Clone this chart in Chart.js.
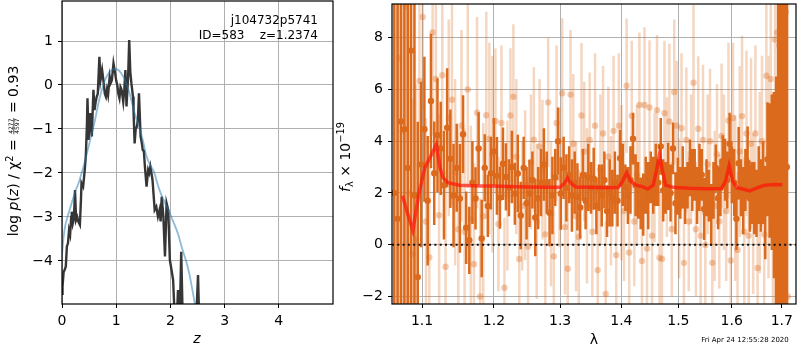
<!DOCTYPE html>
<html>
<head>
<meta charset="utf-8">
<script src="https://cdn.jsdelivr.net/npm/chart.js@4.4.1/dist/chart.umd.min.js"></script>
<style>
  body { margin: 0; background: #fff; }
  #wrap { position: relative; width: 800px; height: 350px; }
  #wrap canvas { position: absolute; left: 0; top: 0; }
</style>
</head>
<body>
<div id="wrap">
  <canvas id="pz-chart" width="800" height="350"></canvas>
  <canvas id="spec-chart" width="800" height="350"></canvas>
</div>
<script>
// ==================== Data ====================

// p(z) panel
const pzZ = [0.00,0.01,0.03,0.05,0.07,0.09,0.11,0.13,0.15,0.17,0.18,0.20,0.22,0.24,0.26,0.28,0.30,0.33,0.35,0.36,
  0.39,0.42,0.44,0.46,0.47,0.49,0.52,0.55,0.58,0.60,0.62,0.64,0.66,0.69,0.71,0.74,0.77,0.79,0.81,0.83,
  0.85,0.88,0.90,0.92,0.95,0.98,1.00,1.02,1.04,1.06,1.08,1.10,1.13,1.15,1.17,1.19,1.22,1.24,1.26,1.28,
  1.31,1.32,1.34,1.36,1.38,1.40,1.42,1.45,1.47,1.49,1.51,1.53,1.56,1.59,1.61,1.63,1.65,1.67,1.69,1.71,
  1.74,1.77,1.80,1.82,1.84,1.87,1.90,1.93,1.96,1.99,2.02,2.05,2.08,2.11,2.14,2.17,2.20,2.23,2.27,2.30,
  2.40,2.47,2.51,2.54,2.60];
const pzLog = [-4.75,-4.58,-4.25,-4.2,-4.13,-3.67,-3.6,-3.3,-3.4,-3.0,-2.88,-3.15,-3.05,-2.39,-3.07,-3.0,-3.1,-3.18,-2.6,-2.23,
  -2.31,-1.93,-1.6,-0.9,-0.30,-1.25,-0.64,-1.17,-0.11,-0.57,-0.4,-0.27,-0.2,0.64,0.11,0.34,0.04,-0.2,-0.27,-0.1,
  -0.23,0.19,0.05,0.11,0.49,0.27,0.1,0.0,-0.2,-0.30,-0.05,-0.11,-0.38,-0.1,0.34,-0.49,0.19,1.02,0.3,0.04,
  -0.27,-0.6,-1.33,-1.0,-0.95,-0.8,-0.19,-1.17,-1.3,-1.48,-1.5,-1.86,-2.31,-1.93,-2.0,-1.86,-2.0,-2.16,-2.5,-2.84,
  -2.77,-2.99,-2.84,-3.1,-2.54,-2.99,-3.90,-2.69,-2.84,-3.98,-4.2,-4.43,-5.3,-5.6,-4.66,-5.4,-3.79,-5.5,-5.6,-5.7,
  -5.8,-5.5,-4.32,-5.8,-6.2];
const fitZ = [0,0.03,0.06,0.09,0.15,0.20,0.25,0.30,0.35,0.40,0.45,0.50,0.55,0.60,0.65,0.70,0.75,0.80,0.85,0.90,
  0.95,1.00,1.05,1.10,1.15,1.20,1.25,1.30,1.35,1.40,1.45,1.50,1.55,1.60,1.65,1.70,1.75,1.80,1.85,1.90,
  1.95,2.00,2.05,2.10,2.15,2.20,2.25,2.30,2.35,2.40,2.45,2.50];
const fitLog = [-3.85,-3.45,-3.2,-3.05,-2.8,-2.6,-2.4,-2.25,-2.05,-1.85,-1.6,-1.35,-1.1,-0.85,-0.55,-0.27,-0.05,0.13,0.25,0.32,
  0.36,0.36,0.33,0.25,0.15,-0.02,-0.2,-0.45,-0.68,-0.88,-1.07,-1.3,-1.58,-1.75,-1.87,-1.98,-2.2,-2.39,-2.55,-2.68,
  -2.8,-2.95,-3.1,-3.25,-3.42,-3.65,-3.85,-4.05,-4.3,-4.62,-4.97,-5.35];
const zTicks = [0, 1, 2, 3, 4];
const logpTicks = [-4, -3, -2, -1, 0, 1];

// spectrum panel
const darkLam = [1.0635,1.0679,1.0723,1.0767,1.0811,1.0855,1.0899,1.0943,1.0987,1.1031,
  1.1075,1.1119,1.1163,1.1207,1.1251,1.1295,1.1339,1.1383,1.1427,1.1471,
  1.1515,1.1559,1.1603,1.1647,1.1691,1.1735,1.1779,1.1823,1.1867,1.1911,
  1.1955,1.1999,1.2043,1.2087,1.2131,1.2175,1.2219,1.2263,1.2307,1.2351,
  1.2395,1.2439,1.2483,1.2527,1.2571,1.2615,1.2659,1.2703,1.2747,1.2791,
  1.2835,1.2879,1.2923,1.2967,1.3011,1.3055,1.3099,1.3143,1.3187,1.3231,
  1.3275,1.3319,1.3363,1.3407,1.3451,1.3495,1.3539,1.3583,1.3627,1.3671,
  1.3715,1.3759,1.3803,1.3847,1.3891,1.3935,1.3979,1.4023,1.4067,1.4111,
  1.4155,1.4199,1.4243,1.4287,1.4331,1.4375,1.4419,1.4463,1.4507,1.4551,
  1.4595,1.4639,1.4683,1.4727,1.4771,1.4815,1.4859,1.4903,1.4947,1.4991,
  1.5035,1.5079,1.5123,1.5167,1.5211,1.5255,1.5299,1.5343,1.5387,1.5431,
  1.5475,1.5519,1.5563,1.5607,1.5651,1.5695,1.5739,1.5783,1.5827,1.5871,
  1.5915,1.5959,1.6003,1.6047,1.6091,1.6135,1.6179,1.6223,1.6267,1.6311,
  1.6355,1.6399,1.6443,1.6487,1.6531,1.6575,1.6619,1.6663,1.6707,1.6751,
  1.6795,1.6839,1.6883,1.6927,1.6971,1.7015,1.7059,1.7103];
const darkFlux = [2.0,1.0,4.76,4.46,2.97,7.5,1.9,-1.25,3.1,4.46,
  1.7,5.55,2.76,4.23,3.72,2.3,4.52,3.32,1.9,2.97,
  1.79,4.27,0.66,0.17,2.4,1.79,3.72,0.24,2.97,1.5,
  2.76,3.6,2.66,1.82,3.13,2.62,2.2,3.0,1.97,2.75,
  1.13,2.97,1.6,1.98,2.5,1.05,1.8,2.4,3.1,2.4,
  1.24,1.9,2.6,4.0,1.98,2.97,2.2,2.7,1.9,2.4,
  1.85,1.44,2.7,1.7,2.6,2.2,2.55,1.5,2.2,1.9,
  2.5,1.3,2.0,1.8,2.4,1.7,3.34,2.7,2.2,1.9,
  2.5,4.1,2.3,2.1,1.6,1.55,2.3,1.9,2.6,2.3,
  2.7,2.4,3.8,2.1,2.2,2.64,2.0,3.72,1.6,2.26,
  2.0,2.6,1.9,2.3,2.97,2.5,2.7,1.9,2.6,2.7,
  1.38,2.2,1.9,1.15,2.1,2.97,1.8,2.2,3.23,2.9,
  2.5,3.9,2.7,2.4,1.0,3.15,2.2,1.7,2.5,3.17,
  1.8,2.0,1.8,1.6,2.3,1.9,2.4,1.24,3.3,2.87,
  2.8,2.3,2.0,0.51,8.3,6.7,7.0,3.0];
const darkErr = [15,15,15,15,15,15,15,6,3.2,2.8,
  2.5,2.6,2.0,2.2,1.8,2.1,2.3,1.9,2.0,1.7,
  2.1,1.5,1.4,1.3,1.6,1.2,1.4,1.5,1.3,1.2,
  1.4,1.3,1.5,1.2,1.4,1.3,1.1,1.4,1.2,1.5,
  1.3,1.2,1.4,1.3,1.1,1.5,1.2,1.3,1.4,1.2,
  1.3,1.5,1.1,1.3,1.4,1.2,1.3,1.1,1.4,1.2,
  1.3,1.2,1.0,1.1,1.3,1.0,1.2,1.1,0.9,1.2,
  1.1,1.0,1.3,1.1,1.2,1.0,1.1,1.2,0.9,1.1,
  1.3,1.0,1.2,1.1,1.0,1.2,1.1,1.3,1.0,1.1,
  1.2,0.9,1.1,1.2,1.0,1.3,1.1,1.0,1.2,1.1,
  1.0,1.2,1.1,0.9,1.1,1.2,1.0,1.1,1.3,1.0,
  1.2,1.1,1.0,1.2,1.1,0.9,1.2,1.1,1.0,1.2,
  1.1,1.2,1.1,1.3,1.2,1.4,1.1,1.3,1.2,1.4,
  1.3,1.2,1.4,1.3,1.5,1.4,1.6,1.8,2.2,2.6,
  3.0,3.6,4.5,15,15,15,15,15];
const lightLam = [1.0657,1.0701,1.0745,1.0789,1.0833,1.0877,1.0921,1.0965,1.1009,1.1053,
  1.1097,1.1141,1.1185,1.1229,1.1273,1.1317,1.1361,1.1405,1.1449,1.1493,
  1.1537,1.1581,1.1625,1.1669,1.1713,1.1757,1.1801,1.1845,1.1889,1.1933,
  1.1977,1.2021,1.2065,1.2109,1.2153,1.2197,1.2241,1.2285,1.2329,1.2373,
  1.2417,1.2461,1.2505,1.2549,1.2593,1.2637,1.2681,1.2725,1.2769,1.2813,
  1.2857,1.2901,1.2945,1.2989,1.3033,1.3077,1.3121,1.3165,1.3209,1.3253,
  1.3297,1.3341,1.3385,1.3429,1.3473,1.3517,1.3561,1.3605,1.3649,1.3693,
  1.3737,1.3781,1.3825,1.3869,1.3913,1.3957,1.4001,1.4045,1.4089,1.4133,
  1.4177,1.4221,1.4265,1.4309,1.4353,1.4397,1.4441,1.4485,1.4529,1.4573,
  1.4617,1.4661,1.4705,1.4749,1.4793,1.4837,1.4881,1.4925,1.4969,1.5013,
  1.5057,1.5101,1.5145,1.5189,1.5233,1.5277,1.5321,1.5365,1.5409,1.5453,
  1.5497,1.5541,1.5585,1.5629,1.5673,1.5717,1.5761,1.5805,1.5849,1.5893,
  1.5937,1.5981,1.6025,1.6069,1.6113,1.6157,1.6201,1.6245,1.6289,1.6333,
  1.6377,1.6421,1.6465,1.6509,1.6553,1.6597,1.6641,1.6685,1.6729,1.6773,
  1.6817,1.6861,1.6905,1.6949,1.6993,1.7037,1.7081,1.7125];
const lightFlux = [9.5,7.2,4.4,9.2,2.0,-0.36,0.2,6.33,8.8,0.9,
  -0.49,8.2,6.4,1.14,6.55,-0.85,4.9,5.6,2.8,0.6,
  4.6,0.5,6.0,1.0,-0.75,5.1,-2.0,1.1,5.0,4.1,
  3.5,4.78,0.8,4.7,-1.66,1.9,4.99,5.72,3.4,-0.55,
  1.5,2.3,-0.07,3.2,4.06,0.9,3.8,2.9,0.4,5.5,
  1.2,-0.45,4.7,2.6,5.85,0.68,-0.93,5.8,3.9,1.1,
  0.3,4.99,3.6,1.5,4.05,0.5,4.6,-0.98,2.9,4.3,
  -1.9,3.4,1.7,4.4,-0.4,4.6,2.4,1.3,6.14,-0.3,
  4.98,0.9,2.7,5.4,-0.63,5.4,-0.15,5.3,0.35,2.6,
  5.2,-0.5,-0.55,5.08,3.0,4.76,0.6,5.9,4.6,1.4,
  4.5,-0.7,4.05,0.9,3.3,6.26,0.6,4.48,0.35,4.05,
  -0.01,3.1,4.0,-0.7,1.5,3.5,0.9,4.2,2.8,1.3,
  4.8,-0.61,4.9,1.8,-0.2,3.6,4.97,0.5,4.3,0.35,
  3.9,1.2,4.3,-0.9,2.4,4.0,0.4,6.53,3.0,6.4,
  0.9,7.93,8.2,7.7,-1.5,6.2,9.0,-2.0];
const lightErr = [12,12,12,12,12,6,6,3.9,3.6,4.0,
  3.8,4.0,3.6,3.9,4.0,3.7,3.8,4.1,3.6,3.9,
  3.7,4.0,3.8,3.6,3.9,3.7,3.8,3.6,4.0,3.7,
  3.8,2.8,2.6,3.0,2.7,2.9,2.6,2.8,3.0,2.7,
  2.5,2.9,2.7,2.6,2.8,3.0,2.6,2.7,2.9,2.5,
  2.8,2.6,3.0,2.7,2.9,2.6,2.8,2.5,2.7,2.9,
  2.6,2.8,2.7,3.0,2.6,2.5,2.8,2.7,2.9,2.6,
  2.8,2.7,2.5,2.9,2.6,2.8,3.0,2.7,2.6,2.8,
  2.9,2.5,2.7,2.8,2.6,3.0,2.7,2.6,2.8,2.5,
  2.9,2.7,2.6,2.8,2.7,3.0,2.6,2.8,2.5,2.7,
  2.9,2.6,2.8,2.7,2.5,3.0,2.6,2.8,2.7,2.9,
  2.6,2.7,2.8,2.5,2.9,2.7,2.6,2.8,3.0,2.7,
  3.0,3.1,2.9,3.2,3.0,3.3,3.1,2.9,3.2,3.0,
  3.3,3.1,3.4,3.2,3.5,3.3,3.6,4.0,4.3,4.6,
  5.0,12,12,12,12,12,12,12];
const modelLam = [1.0743,1.0810,1.0878,1.0961,1.1036,1.1120,1.1192,1.1240,1.1281,1.1349,
  1.1509,1.18,1.20,1.22,1.25,1.28,1.300,1.306,1.312,1.318,
  1.325,1.35,1.38,1.395,1.402,1.409,1.416,1.425,1.435,1.445,
  1.455,1.461,1.466,1.471,1.477,1.49,1.52,1.55,1.58,1.588,
  1.595,1.602,1.610,1.622,1.635,1.650,1.665,1.685,1.701];
const modelFlux = [1.89,1.2,0.55,2.02,2.97,3.45,3.87,3.0,2.59,2.40,
  2.30,2.27,2.27,2.25,2.23,2.22,2.22,2.35,2.58,2.35,
  2.23,2.22,2.20,2.22,2.45,2.78,2.45,2.30,2.25,2.15,
  2.3,2.9,3.49,2.9,2.3,2.22,2.18,2.16,2.17,2.45,
  3.05,2.45,2.2,2.15,2.08,2.2,2.3,2.33,2.32];
const lamTicks = [1.1, 1.2, 1.3, 1.4, 1.5, 1.6, 1.7];
const fluxTicks = [-2, 0, 2, 4, 6, 8];

// ==================== Helpers ====================

const FONT = '"DejaVu Sans"';
const ORANGE = 'rgb(220,106,28)';
const ORANGE_LIGHT = 'rgba(220,106,28,0.28)';
const ORANGE_DOT = 'rgba(220,106,28,0.35)';

const pts = (xs, ys) => xs.map((x, i) => ({ x, y: ys[i] }));
const minusFmt = v => (v < 0 ? '\u2212' + Math.abs(v) : String(v));

// vertical error bars as one broken line: lo, hi, gap
function errSegments(lam, flux, err) {
    const out = [];
    lam.forEach((x, i) => {
        out.push({ x, y: flux[i] - err[i] }, { x, y: flux[i] + err[i] }, { x, y: null });
    });
    return out;
}

function axis(type, min, max, tickList, fmt, size) {
    return {
        type, min, max, bounds: 'data',
        grid: { color: '#b0b0b0', lineWidth: 1, tickColor: '#000', tickLength: 4, tickWidth: 1 },
        border: { display: false },
        ticks: { color: '#000', font: { family: 'DejaVu Sans', size: 14 }, padding: 5, maxRotation: 0, autoSkip: false, callback: fmt },
        afterBuildTicks: s => { s.ticks = tickList.map(v => ({ value: v })); },
        afterFit: s => {
            if (s.isHorizontal()) s.height = size; else s.width = size;
            s.paddingTop = 0; s.paddingBottom = 0; s.paddingLeft = 0; s.paddingRight = 0;
        }
    };
}

const frame = {
    id: 'frame',
    afterDraw(chart) {
        const { ctx, chartArea: a } = chart;
        ctx.save();
        ctx.strokeStyle = '#000';
        ctx.lineWidth = 1.2;
        ctx.strokeRect(a.left, a.top, a.right - a.left, a.bottom - a.top);
        ctx.restore();
    }
};

// text drawn rotated, reading upward; parts laid out along the baseline
function richLabel(ctx, baseX, centerY, parts) {
    let total = 0;
    parts.forEach(p => {
        ctx.font = p.font;
        p.w = p.num ? Math.max(ctx.measureText(p.num).width, ctx.measureText(p.den).width) + 2
                    : ctx.measureText(p.text).width;
        total += p.w;
    });
    ctx.save();
    ctx.translate(baseX, centerY);
    ctx.rotate(-Math.PI / 2);
    ctx.fillStyle = '#000';
    ctx.strokeStyle = '#000';
    ctx.textBaseline = 'alphabetic';
    let x = -total / 2;
    parts.forEach(p => {
        ctx.font = p.font;
        if (p.num) {
            ctx.textAlign = 'center';
            ctx.fillText(p.num, x + p.w / 2, -5);
            ctx.fillText(p.den, x + p.w / 2, 1.4);
            ctx.lineWidth = 0.7;
            ctx.beginPath();
            ctx.moveTo(x + 0.5, -4.2);
            ctx.lineTo(x + p.w - 0.5, -4.2);
            ctx.stroke();
        } else {
            ctx.textAlign = 'left';
            ctx.fillText(p.text, x, p.dy || 0);
        }
        x += p.w;
    });
    ctx.restore();
}

const pzText = {
    id: 'pzText',
    afterDraw(chart) {
        const ctx = chart.ctx;
        ctx.save();
        ctx.fillStyle = '#000';
        ctx.textAlign = 'right';
        ctx.textBaseline = 'alphabetic';
        ctx.font = '12px ' + FONT;
        ctx.fillText('j104732p5741', 318, 24);
        ctx.fillText('ID=583    z=1.2374', 318, 39);
        ctx.textAlign = 'center';
        ctx.font = 'italic 14px ' + FONT;
        ctx.fillText('z', 197, 343);
        ctx.restore();
        const R = '14px ' + FONT, I = 'italic 14px ' + FONT, S = '9.8px ' + FONT;
        richLabel(ctx, 18, 151, [
            { text: 'log ', font: R },
            { text: 'p', font: I },
            { text: '(', font: R },
            { text: 'z', font: I },
            { text: ') / ', font: R },
            { text: '\u03c7', font: R },
            { text: '2', font: S, dy: -5.5 },
            { text: ' = ', font: R },
            { num: '4277', den: '4597', font: '6px ' + FONT },
            { text: ' = 0.93', font: R }
        ]);
    }
};

const specText = {
    id: 'specText',
    afterDraw(chart) {
        const ctx = chart.ctx;
        ctx.save();
        ctx.fillStyle = '#000';
        ctx.textBaseline = 'alphabetic';
        ctx.textAlign = 'center';
        ctx.font = '14px ' + FONT;
        ctx.fillText('\u03bb', 594, 344);
        ctx.font = '7px ' + FONT;
        ctx.fillText('Fri Apr 24 12:55:28 2020', 745, 342);
        ctx.restore();
        const R = '14px ' + FONT, S = '9.8px ' + FONT;
        richLabel(ctx, 350, 157, [
            { text: 'f', font: 'italic 14px ' + FONT },
            { text: '\u03bb', font: S, dy: 3 },
            { text: ' \u00d7 10', font: R },
            { text: '\u221219', font: S, dy: -6 }
        ]);
    }
};

// ==================== Charts ====================

new Chart(document.getElementById('pz-chart'), {
    type: 'scatter',
    data: {
        datasets: [
            { data: pts(fitZ, fitLog), showLine: true, borderColor: 'rgba(31,119,180,0.5)', borderWidth: 1.8, pointRadius: 0, tension: 0.3, order: 1 },
            { data: pts(pzZ, pzLog), showLine: true, borderColor: '#363636', borderWidth: 2.4, pointRadius: 0, order: 2 }
        ]
    },
    options: {
        responsive: false, animation: false, devicePixelRatio: 1,
        layout: { padding: { left: 0, top: 1, right: 467, bottom: 0 } },
        plugins: { legend: { display: false }, tooltip: { enabled: false } },
        scales: {
            x: axis('linear', 0, 5, zTicks, v => minusFmt(v), 46),
            y: axis('linear', -4.98, 1.91, logpTicks, v => minusFmt(v), 62)
        }
    },
    plugins: [frame, pzText]
});

new Chart(document.getElementById('spec-chart'), {
    type: 'scatter',
    data: {
        datasets: [
            { data: errSegments(lightLam, lightFlux, lightErr), showLine: true, borderColor: ORANGE_LIGHT, borderWidth: 2.5, borderCapStyle: 'butt', pointRadius: 0, order: 6 },
            { data: pts(lightLam, lightFlux), backgroundColor: ORANGE_DOT, borderWidth: 0, pointRadius: 3.2, order: 5 },
            { data: errSegments(darkLam, darkFlux, darkErr), showLine: true, borderColor: ORANGE, borderWidth: 2.5, borderCapStyle: 'butt', pointRadius: 0, order: 4 },
            { data: pts(darkLam, darkFlux), backgroundColor: ORANGE, borderWidth: 0, pointRadius: 3.2, order: 3 },
            { data: pts(modelLam, modelFlux), showLine: true, borderColor: 'rgba(255,20,10,0.7)', borderWidth: 3.5, pointRadius: 0, order: 2 },
            { data: [{ x: 1.0607, y: 0 }, { x: 1.7294, y: 0 }], showLine: true, borderColor: '#111', borderWidth: 2, borderDash: [2, 3.3], pointRadius: 0, order: 1 }
        ]
    },
    options: {
        responsive: false, animation: false, devicePixelRatio: 1,
        layout: { padding: { left: 340, top: 1, right: 1, bottom: 0 } },
        plugins: { legend: { display: false }, tooltip: { enabled: false } },
        scales: {
            x: axis('logarithmic', 1.0607, 1.7294, lamTicks, v => Number(v).toFixed(1), 46),
            y: axis('linear', -2.29, 9.3, fluxTicks, v => minusFmt(v), 52)
        }
    },
    plugins: [frame, specText]
});
</script>
</body>
</html>
